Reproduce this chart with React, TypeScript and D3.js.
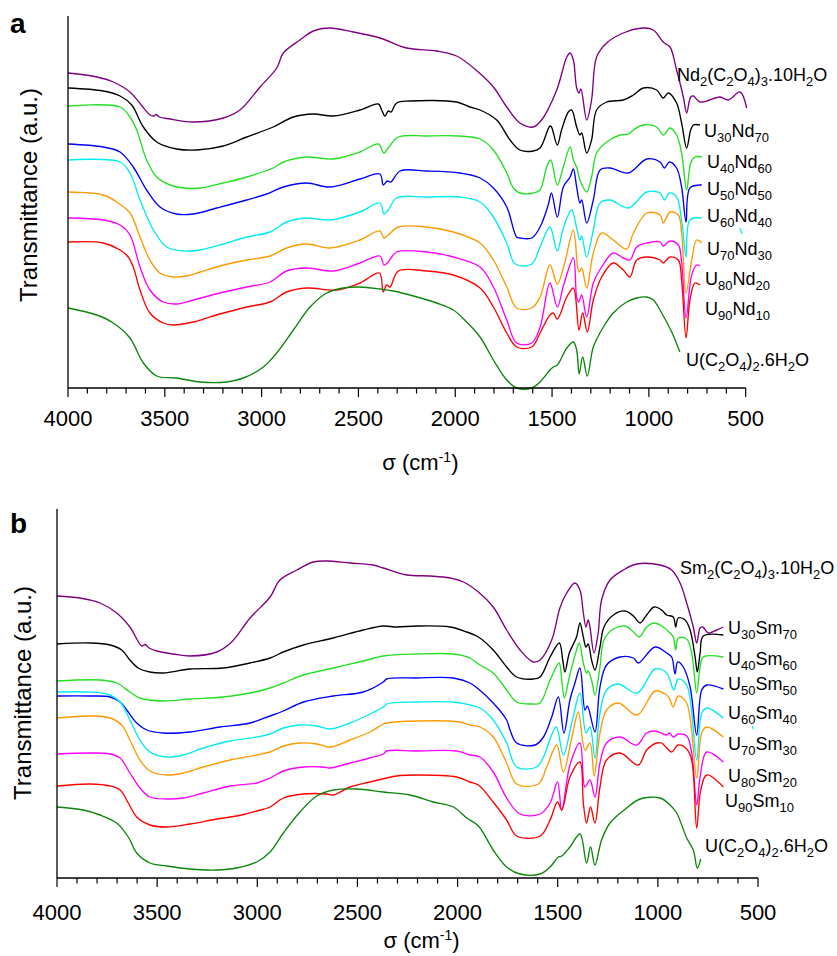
import React from 'react';
import * as d3 from 'd3';

type Pt = [number, number];

// ---------- Panel a : U/Nd oxalates (wavenumber cm-1, transmittance a.u.) ----------
const A_NDOX: Pt[] = [[4000,3.15],[3850,3.11],[3766,3.06],[3680,2.96],[3576,2.73],[3558,2.72],[3545,2.735],[3528,2.71],[3473,2.69],[3353,2.66],[3198,2.70],[3112,2.78],[3008,3.01],[2922,3.20],[2888,3.35],[2802,3.48],[2733,3.57],[2647,3.60],[2527,3.56],[2389,3.50],[2251,3.40],[2096,3.37],[1993,3.32],[1881,3.16],[1803,3.01],[1734,2.81],[1666,2.65],[1597,2.61],[1554,2.68],[1476,2.98],[1424,3.31],[1407,3.35],[1390,3.28],[1373,3.00],[1361,2.95],[1351,2.99],[1321,2.68],[1296,2.88],[1270,3.31],[1218,3.45],[1132,3.55],[1029,3.60],[977,3.58],[926,3.46],[891,3.41],[857,3.18],[822,2.91],[805,2.75],[784,2.91],[770,2.92],[736,2.86],[633,2.91],[590,2.88],[529,2.96],[495,2.80]];
const A_U30: Pt[] = [[4000,3.00],[3818,2.97],[3731,2.92],[3671,2.83],[3611,2.61],[3542,2.46],[3439,2.39],[3335,2.38],[3198,2.42],[3077,2.51],[2940,2.61],[2836,2.71],[2733,2.74],[2630,2.72],[2492,2.78],[2397,2.84],[2380,2.78],[2363,2.72],[2346,2.77],[2332,2.76],[2303,2.85],[2234,2.87],[1993,2.86],[1924,2.81],[1872,2.78],[1786,2.68],[1717,2.48],[1666,2.38],[1597,2.37],[1562,2.40],[1511,2.62],[1503,2.61],[1473,2.43],[1451,2.58],[1416,2.76],[1399,2.78],[1373,2.61],[1356,2.53],[1347,2.55],[1321,2.35],[1296,2.48],[1270,2.78],[1218,2.86],[1132,2.88],[1080,2.93],[1029,3.00],[960,2.98],[926,2.90],[900,2.95],[857,2.85],[831,2.65],[805,2.40],[784,2.58],[770,2.63],[736,2.63]];
const A_U40: Pt[] = [[4000,2.82],[3731,2.81],[3680,2.71],[3645,2.58],[3594,2.28],[3542,2.11],[3473,2.03],[3405,2.00],[3318,2.00],[3198,2.05],[3077,2.11],[2940,2.20],[2888,2.26],[2767,2.31],[2630,2.29],[2492,2.36],[2397,2.44],[2368,2.35],[2346,2.40],[2294,2.51],[2147,2.52],[1984,2.52],[1872,2.49],[1803,2.38],[1734,2.15],[1700,2.00],[1666,1.95],[1597,1.95],[1562,1.98],[1528,2.21],[1507,2.28],[1473,2.03],[1442,2.21],[1407,2.41],[1390,2.28],[1373,2.21],[1356,2.08],[1321,1.96],[1296,2.11],[1270,2.35],[1218,2.46],[1149,2.53],[1106,2.54],[1080,2.58],[1029,2.63],[960,2.61],[926,2.53],[891,2.60],[857,2.53],[831,2.35],[805,1.98],[784,2.25],[762,2.31],[727,2.31]];
const A_U50: Pt[] = [[4000,2.44],[3818,2.41],[3731,2.36],[3663,2.21],[3594,1.98],[3525,1.81],[3439,1.74],[3353,1.74],[3232,1.80],[3077,1.88],[2974,1.94],[2888,2.01],[2767,2.05],[2647,2.01],[2492,2.09],[2389,2.14],[2372,2.03],[2351,2.07],[2333,2.06],[2285,2.17],[2147,2.17],[1976,2.15],[1872,2.10],[1803,2.00],[1734,1.81],[1683,1.51],[1666,1.50],[1605,1.50],[1562,1.61],[1520,1.83],[1503,1.95],[1473,1.71],[1442,2.01],[1407,2.11],[1390,2.19],[1373,2.01],[1356,1.85],[1347,1.88],[1321,1.65],[1287,1.88],[1252,2.18],[1201,2.20],[1106,2.15],[1011,2.29],[942,2.26],[920,2.20],[894,2.26],[857,2.20],[831,2.01],[808,1.66],[788,2.00],[727,2.03]];
const A_U60: Pt[] = [[4000,2.28],[3731,2.26],[3680,2.15],[3628,1.88],[3559,1.58],[3490,1.41],[3405,1.37],[3318,1.38],[3198,1.44],[3077,1.51],[2957,1.56],[2871,1.66],[2767,1.70],[2647,1.68],[2492,1.76],[2389,1.85],[2368,1.74],[2346,1.78],[2303,1.90],[2147,1.91],[1976,1.91],[1872,1.86],[1803,1.71],[1734,1.45],[1690,1.24],[1605,1.24],[1562,1.41],[1511,1.61],[1473,1.37],[1442,1.60],[1399,1.78],[1373,1.60],[1356,1.48],[1347,1.52],[1321,1.31],[1287,1.58],[1252,1.85],[1201,1.88],[1106,1.80],[1011,1.96],[942,1.95],[920,1.88],[894,1.95],[857,1.91],[831,1.68],[808,1.31],[788,1.68],[727,1.70]];
const A_U70: Pt[] = [[4000,1.96],[3818,1.93],[3749,1.86],[3680,1.75],[3628,1.51],[3577,1.28],[3525,1.15],[3456,1.11],[3387,1.12],[3318,1.16],[3215,1.22],[3077,1.28],[2957,1.32],[2871,1.40],[2767,1.44],[2647,1.40],[2492,1.48],[2389,1.57],[2368,1.50],[2346,1.53],[2294,1.61],[2147,1.61],[2010,1.56],[1872,1.45],[1803,1.28],[1734,1.01],[1683,0.80],[1605,0.80],[1562,0.91],[1511,1.23],[1473,1.04],[1440,1.21],[1390,1.58],[1368,1.21],[1360,1.16],[1347,1.20],[1321,1.00],[1287,1.35],[1244,1.55],[1184,1.48],[1115,1.39],[1080,1.55],[1011,1.75],[942,1.73],[926,1.65],[891,1.76],[848,1.73],[831,1.55],[808,0.95],[779,1.28],[753,1.48],[727,1.45]];
const A_U80: Pt[] = [[4000,1.70],[3818,1.68],[3731,1.63],[3680,1.53],[3628,1.21],[3577,0.98],[3508,0.86],[3439,0.84],[3353,0.88],[3215,0.95],[3077,1.01],[2957,1.06],[2871,1.17],[2767,1.20],[2630,1.17],[2492,1.25],[2389,1.32],[2368,1.23],[2346,1.26],[2303,1.36],[2147,1.36],[2010,1.31],[1872,1.21],[1803,1.01],[1734,0.68],[1683,0.45],[1605,0.45],[1562,0.61],[1511,1.05],[1473,0.81],[1440,1.03],[1390,1.30],[1373,0.91],[1362,0.86],[1347,0.93],[1321,0.71],[1287,1.05],[1244,1.21],[1184,1.35],[1132,1.30],[1098,1.28],[1063,1.41],[1011,1.45],[942,1.46],[926,1.42],[891,1.47],[848,1.43],[831,1.26],[808,0.70],[779,1.13],[753,1.23],[736,1.22]];
const A_U90: Pt[] = [[4000,1.46],[3818,1.45],[3731,1.38],[3689,1.31],[3663,1.21],[3628,0.98],[3577,0.75],[3508,0.65],[3456,0.63],[3353,0.66],[3215,0.74],[3077,0.81],[2957,0.86],[2871,0.96],[2767,1.00],[2612,0.98],[2492,1.05],[2392,1.15],[2372,0.96],[2354,1.03],[2337,1.01],[2294,1.17],[2147,1.17],[2010,1.13],[1872,1.00],[1803,0.81],[1734,0.55],[1683,0.41],[1605,0.41],[1562,0.55],[1511,0.73],[1494,0.75],[1473,0.69],[1424,0.91],[1390,1.00],[1361,0.58],[1342,0.75],[1318,0.56],[1287,0.88],[1244,1.11],[1184,1.25],[1132,1.18],[1098,1.11],[1063,1.28],[1011,1.31],[942,1.28],[926,1.25],[891,1.31],[848,1.28],[831,1.08],[808,0.50],[788,0.88],[762,1.05],[736,1.03]];
const A_UOX: Pt[] = [[4000,0.80],[3852,0.73],[3766,0.65],[3680,0.50],[3611,0.25],[3542,0.12],[3439,0.10],[3318,0.06],[3180,0.06],[3095,0.10],[2991,0.21],[2922,0.35],[2836,0.58],[2750,0.81],[2664,0.95],[2578,1.00],[2492,1.01],[2389,0.99],[2320,0.97],[2216,0.92],[2096,0.85],[2010,0.78],[1941,0.66],[1872,0.51],[1803,0.28],[1734,0.08],[1683,0.00],[1605,0.00],[1562,0.06],[1511,0.18],[1494,0.21],[1473,0.23],[1424,0.40],[1390,0.46],[1373,0.38],[1360,0.14],[1342,0.31],[1318,0.12],[1287,0.41],[1235,0.61],[1184,0.75],[1115,0.86],[1063,0.90],[1011,0.91],[977,0.88],[934,0.75],[882,0.56],[840,0.36]];
const A_STRAY: Pt[] = [[531,1.60],[518,1.54]];

const A_LABELS = ['Nd_{2}(C_{2}O_{4})_{3}.10H_{2}O','U_{30}Nd_{70}','U_{40}Nd_{60}','U_{50}Nd_{50}','U_{60}Nd_{40}','U_{70}Nd_{30}','U_{80}Nd_{20}','U_{90}Nd_{10}','U(C_{2}O_{4})_{2}.6H_{2}O'];
const A_LABEL_AT: Pt[] = [[855,3.07],[715,2.51],[700,2.20],[700,1.93],[700,1.66],[700,1.33],[710,1.03],[710,0.73],[808,0.22]];

// ---------- Panel b : U/Sm oxalates ----------
const B_SMOX: Pt[] = [[4000,2.82],[3885,2.80],[3785,2.75],[3702,2.65],[3636,2.51],[3577,2.32],[3560,2.335],[3540,2.30],[3502,2.27],[3419,2.24],[3336,2.22],[3203,2.26],[3128,2.36],[3036,2.60],[2936,2.81],[2887,2.98],[2803,3.08],[2720,3.16],[2653,3.17],[2537,3.15],[2421,3.13],[2371,3.10],[2254,3.03],[2138,3.02],[2038,3.00],[1971,2.96],[1896,2.86],[1822,2.71],[1755,2.48],[1688,2.28],[1622,2.16],[1588,2.18],[1530,2.38],[1489,2.70],[1455,2.85],[1414,2.95],[1389,2.88],[1372,2.65],[1359,2.51],[1348,2.58],[1339,2.51],[1319,2.25],[1298,2.45],[1281,2.78],[1239,2.98],[1172,3.08],[1106,3.14],[989,3.13],[931,3.08],[889,2.95],[856,2.75],[823,2.51],[806,2.35],[789,2.50],[776,2.51],[748,2.45],[706,2.48],[673,2.51]];
const B_U30: Pt[] = [[4000,2.34],[3835,2.35],[3735,2.33],[3677,2.28],[3636,2.18],[3594,2.10],[3536,2.06],[3469,2.05],[3336,2.09],[3170,2.10],[3036,2.15],[2936,2.20],[2870,2.26],[2770,2.33],[2620,2.40],[2471,2.48],[2371,2.52],[2304,2.51],[2204,2.52],[2038,2.51],[1954,2.46],[1896,2.41],[1822,2.28],[1755,2.11],[1705,2.01],[1622,1.99],[1588,2.01],[1538,2.21],[1492,2.35],[1475,2.18],[1464,2.06],[1442,2.25],[1406,2.41],[1389,2.55],[1372,2.41],[1359,2.31],[1348,2.34],[1331,2.18],[1314,2.08],[1289,2.31],[1269,2.51],[1222,2.63],[1164,2.67],[1122,2.62],[1089,2.55],[1056,2.63],[1019,2.71],[981,2.68],[956,2.63],[923,2.61],[911,2.51],[898,2.60],[864,2.58],[839,2.48],[814,2.21],[803,2.06],[789,2.25],[773,2.42],[673,2.43]];
const B_U40: Pt[] = [[4000,1.97],[3785,1.98],[3702,1.95],[3636,1.86],[3586,1.80],[3469,1.77],[3336,1.79],[3170,1.81],[3036,1.85],[2936,1.90],[2870,1.95],[2770,2.03],[2620,2.10],[2471,2.17],[2371,2.22],[2204,2.24],[2021,2.24],[1938,2.20],[1896,2.14],[1822,2.05],[1755,1.88],[1705,1.76],[1622,1.74],[1588,1.75],[1538,1.98],[1493,2.15],[1480,1.98],[1467,1.80],[1442,2.01],[1406,2.28],[1392,2.35],[1372,2.15],[1356,2.05],[1348,2.07],[1331,1.98],[1314,1.83],[1289,2.11],[1269,2.38],[1222,2.49],[1164,2.52],[1122,2.46],[1093,2.41],[1056,2.51],[1019,2.55],[981,2.52],[939,2.45],[923,2.41],[911,2.28],[898,2.40],[856,2.39],[831,2.25],[806,1.85],[789,2.11],[773,2.21],[673,2.21]];
const B_U50: Pt[] = [[4000,1.82],[3835,1.82],[3735,1.81],[3685,1.76],[3652,1.68],[3602,1.55],[3552,1.48],[3469,1.45],[3336,1.46],[3186,1.51],[3036,1.55],[2936,1.62],[2870,1.67],[2770,1.76],[2620,1.82],[2471,1.86],[2371,1.96],[2354,1.99],[2204,2.00],[2021,2.00],[1938,1.95],[1896,1.89],[1822,1.75],[1755,1.58],[1738,1.48],[1705,1.35],[1613,1.33],[1571,1.41],[1530,1.61],[1497,1.81],[1469,1.45],[1439,1.78],[1414,1.95],[1389,2.10],[1364,1.68],[1352,1.72],[1314,1.46],[1289,1.91],[1256,2.13],[1189,2.21],[1122,2.20],[1098,2.15],[1014,2.31],[956,2.25],[931,2.21],[914,2.04],[901,2.16],[873,2.11],[839,1.91],[806,1.43],[781,1.88],[756,1.93],[673,1.89]];
const B_U60: Pt[] = [[4000,1.86],[3852,1.86],[3752,1.84],[3685,1.76],[3636,1.58],[3586,1.38],[3536,1.26],[3452,1.21],[3369,1.23],[3270,1.30],[3136,1.37],[3003,1.41],[2936,1.44],[2870,1.50],[2787,1.53],[2703,1.52],[2637,1.49],[2537,1.55],[2437,1.64],[2371,1.71],[2354,1.74],[2204,1.76],[2021,1.76],[1938,1.73],[1888,1.70],[1822,1.58],[1755,1.35],[1705,1.11],[1605,1.11],[1571,1.21],[1508,1.51],[1472,1.23],[1430,1.55],[1389,1.85],[1359,1.45],[1339,1.51],[1314,1.20],[1289,1.65],[1256,1.88],[1197,1.94],[1103,1.85],[1014,2.09],[956,2.05],[920,1.88],[898,1.99],[856,1.93],[806,1.18],[781,1.65],[756,1.70],[673,1.60]];
const B_U70: Pt[] = [[4000,1.60],[3835,1.62],[3735,1.60],[3677,1.53],[3636,1.38],[3586,1.18],[3536,1.07],[3452,1.03],[3369,1.05],[3270,1.11],[3136,1.18],[3003,1.23],[2936,1.26],[2870,1.32],[2787,1.35],[2703,1.34],[2637,1.31],[2537,1.38],[2437,1.46],[2371,1.54],[2354,1.55],[2204,1.57],[1988,1.56],[1938,1.53],[1888,1.51],[1822,1.41],[1755,1.15],[1705,0.94],[1597,0.94],[1555,1.11],[1505,1.33],[1472,1.06],[1430,1.40],[1397,1.66],[1364,1.28],[1339,1.35],[1318,1.02],[1289,1.45],[1256,1.68],[1197,1.75],[1103,1.63],[1014,1.87],[964,1.84],[943,1.80],[923,1.71],[898,1.82],[856,1.75],[806,1.00],[781,1.45],[756,1.51],[673,1.41]];
const B_U80: Pt[] = [[4000,1.24],[3835,1.25],[3735,1.24],[3685,1.20],[3636,1.05],[3586,0.90],[3536,0.81],[3452,0.79],[3369,0.80],[3270,0.85],[3136,0.92],[3003,0.95],[2936,1.00],[2870,1.07],[2770,1.11],[2670,1.11],[2637,1.10],[2537,1.15],[2437,1.20],[2371,1.24],[2354,1.27],[2204,1.27],[2004,1.27],[1938,1.23],[1888,1.21],[1822,1.06],[1755,0.80],[1688,0.64],[1588,0.64],[1538,0.75],[1501,0.96],[1480,0.68],[1439,1.13],[1389,1.35],[1364,0.91],[1339,0.98],[1314,0.81],[1289,1.15],[1256,1.35],[1189,1.41],[1106,1.33],[1056,1.45],[1014,1.47],[956,1.43],[943,1.45],[923,1.41],[898,1.44],[856,1.42],[831,1.25],[806,0.73],[789,1.01],[756,1.26],[673,1.16]];
const B_U90: Pt[] = [[4000,0.92],[3835,0.94],[3735,0.92],[3685,0.88],[3644,0.75],[3602,0.61],[3536,0.53],[3452,0.51],[3336,0.54],[3203,0.59],[3103,0.62],[3003,0.67],[2936,0.71],[2870,0.80],[2770,0.84],[2653,0.84],[2620,0.83],[2537,0.91],[2437,0.96],[2304,1.02],[2204,1.03],[2004,1.01],[1938,0.96],[1896,0.93],[1822,0.76],[1755,0.58],[1705,0.42],[1588,0.42],[1538,0.58],[1501,0.76],[1480,0.68],[1439,1.01],[1389,1.16],[1372,0.75],[1356,0.55],[1336,0.71],[1314,0.55],[1289,0.91],[1256,1.18],[1189,1.25],[1098,1.13],[1056,1.28],[1006,1.35],[981,1.35],[956,1.30],[931,1.26],[898,1.33],[856,1.29],[831,1.18],[806,0.50],[786,0.88],[756,1.03],[673,0.91]];
const B_UOX: Pt[] = [[4000,0.71],[3869,0.68],[3785,0.63],[3702,0.55],[3644,0.41],[3602,0.25],[3536,0.15],[3452,0.12],[3336,0.09],[3203,0.08],[3103,0.10],[3003,0.16],[2936,0.26],[2870,0.45],[2787,0.66],[2703,0.82],[2620,0.88],[2504,0.89],[2371,0.86],[2237,0.83],[2121,0.76],[2021,0.71],[1954,0.60],[1896,0.52],[1822,0.28],[1755,0.11],[1688,0.04],[1588,0.04],[1538,0.11],[1497,0.21],[1480,0.22],[1439,0.31],[1389,0.44],[1356,0.15],[1336,0.31],[1314,0.13],[1281,0.38],[1239,0.55],[1156,0.70],[1089,0.79],[989,0.80],[939,0.73],[906,0.65],[856,0.40],[823,0.28],[803,0.10],[786,0.19]];
const B_STRAY: Pt[] = [[527,1.52],[525,1.49]];

const B_LABELS = ['Sm_{2}(C_{2}O_{4})_{3}.10H_{2}O','U_{30}Sm_{70}','U_{40}Sm_{60}','U_{50}Sm_{50}','U_{60}Sm_{40}','U_{70}Sm_{30}','U_{80}Sm_{20}','U_{90}Sm_{10}','U(C_{2}O_{4})_{2}.6H_{2}O'];
const B_LABEL_AT: Pt[] = [[889,3.04],[650,2.44],[650,2.13],[650,1.88],[650,1.59],[650,1.28],[650,0.96],[665,0.71],[765,0.26]];

const COLORS = ['#800080','#000000','#22e022','#0000ff','#00ecf0','#ff9900','#ff00ff','#ff0000','#0c850c'];
const TICK_VALUES = d3.range(500, 4001, 100);
const MAJOR_TICKS = [4000, 3500, 3000, 2500, 2000, 1500, 1000, 500];

const FONT = '"Liberation Sans", Arial, Helvetica, sans-serif';

function parseLabel(s: string) {
  const parts: { t: string; sub: boolean }[] = [];
  const re = /_\{([^}]*)\}/g;
  let last = 0;
  let m: RegExpExecArray | null;
  while ((m = re.exec(s))) {
    if (m.index > last) parts.push({ t: s.slice(last, m.index), sub: false });
    parts.push({ t: m[1], sub: true });
    last = re.lastIndex;
  }
  if (last < s.length) parts.push({ t: s.slice(last), sub: false });
  return parts;
}

function RichLabel({ x, y, text, size }: { x: number; y: number; text: string; size: number }) {
  const parts = parseLabel(text);
  const subSize = Math.round(size * 0.72);
  const shift = 4.5;
  return (
    <text x={x} y={y} fontFamily={FONT} fontSize={size} fill="#000">
      {parts.map((p, i) => {
        const prevSub = i > 0 && parts[i - 1].sub;
        let dy = 0;
        if (p.sub && !prevSub) dy = shift;
        if (!p.sub && prevSub) dy = -shift;
        return (
          <tspan key={i} dy={dy} fontSize={p.sub ? subSize : size}>
            {p.t}
          </tspan>
        );
      })}
    </text>
  );
}

interface PanelProps {
  letter: string;
  series: Pt[][];
  labels: string[];
  labelAt: Pt[];
  stray: Pt[];
  x0: number;
  x1: number;
  yTop: number;
  yBottom: number;
  yMax: number;
  letterY: number;
  tickLabelY: number;
  titleY: number;
  yTitleX: number;
  yTitleY: number;
}

function Panel(p: PanelProps) {
  const x = d3.scaleLinear().domain([4000, 500]).range([p.x0, p.x1]);
  const y = d3.scaleLinear().domain([0, p.yMax]).range([p.yBottom, p.yTop]);
  const line = d3
    .line<Pt>()
    .x((d) => x(d[0]))
    .y((d) => y(d[1]))
    .curve(d3.curveCatmullRom.alpha(0.5));
  const straight = d3.line<Pt>().x((d) => x(d[0])).y((d) => y(d[1]));
  const titleX = x(2180);
  return (
    <g>
      <text x={10} y={p.letterY} fontFamily={FONT} fontWeight="bold" fontSize={28}>
        {p.letter}
      </text>
      {p.series.map((s, i) => (
        <path key={i} d={line(s) || ''} fill="none" stroke={COLORS[i]} strokeWidth={1.35} strokeLinejoin="round" />
      ))}
      <path d={straight(p.stray) || ''} fill="none" stroke={COLORS[4]} strokeWidth={1.2} />
      <line x1={x(4000)} x2={x(4000)} y1={p.yTop} y2={p.yBottom} stroke="#000" strokeWidth={1.3} />
      <line x1={x(4000)} x2={x(500)} y1={p.yBottom} y2={p.yBottom} stroke="#000" strokeWidth={1.3} />
      {TICK_VALUES.map((t) => (
        <line
          key={t}
          x1={x(t)}
          x2={x(t)}
          y1={p.yBottom}
          y2={p.yBottom + (t % 500 === 0 ? 9 : 5.5)}
          stroke="#000"
          strokeWidth={1.2}
        />
      ))}
      {MAJOR_TICKS.map((t) => (
        <text key={t} x={x(t)} y={p.tickLabelY} textAnchor="middle" fontFamily={FONT} fontSize={22}>
          {t}
        </text>
      ))}
      <text x={titleX} y={p.titleY} textAnchor="middle" fontFamily={FONT} fontSize={22}>
        σ (cm
        <tspan dy={-8} fontSize={14}>-1</tspan>
        <tspan dy={8}>)</tspan>
      </text>
      <text
        transform={`translate(${p.yTitleX},${p.yTitleY}) rotate(-90)`}
        textAnchor="middle"
        dominantBaseline="central"
        fontFamily={FONT}
        fontSize={24}
      >
        Transmittance (a.u.)
      </text>
      {p.labels.map((l, i) => (
        <RichLabel key={i} x={x(p.labelAt[i][0])} y={y(p.labelAt[i][1])} text={l} size={18} />
      ))}
    </g>
  );
}

export default function App() {
  return (
    <svg
      width={837}
      height={956}
      viewBox="0 0 837 956"
      style={{ position: 'absolute', left: 0, top: 0, background: '#fff' }}
    >
      <rect width={837} height={956} fill="#fff" />
      <Panel
        letter="a"
        series={[A_NDOX, A_U30, A_U40, A_U50, A_U60, A_U70, A_U80, A_U90, A_UOX]}
        labels={A_LABELS}
        labelAt={A_LABEL_AT}
        stray={A_STRAY}
        x0={68}
        x1={745.7}
        yTop={16}
        yBottom={388}
        yMax={3.72}
        letterY={33}
        tickLabelY={426}
        titleY={470}
        yTitleX={28}
        yTitleY={195}
      />
      <Panel
        letter="b"
        series={[B_SMOX, B_U30, B_U40, B_U50, B_U60, B_U70, B_U80, B_U90, B_UOX]}
        labels={B_LABELS}
        labelAt={B_LABEL_AT}
        stray={B_STRAY}
        x0={57}
        x1={758}
        yTop={509}
        yBottom={878}
        yMax={3.69}
        letterY={533}
        tickLabelY={920}
        titleY={948}
        yTitleX={22.5}
        yTitleY={693}
      />
    </svg>
  );
}
